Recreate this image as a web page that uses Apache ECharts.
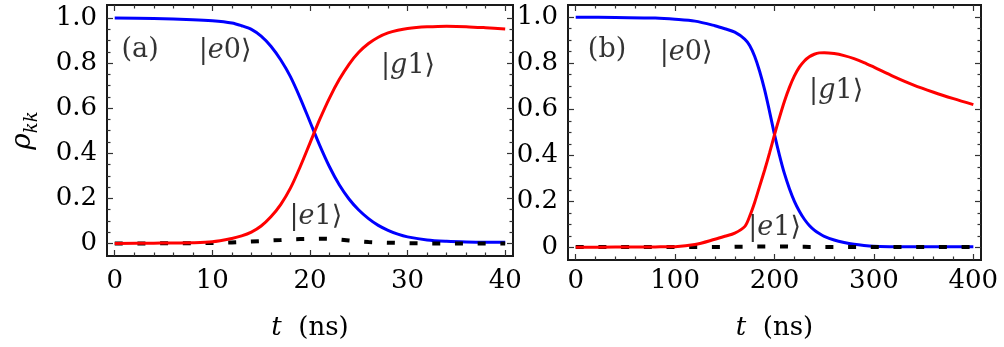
<!DOCTYPE html>
<html>
<head>
<meta charset="utf-8">
<script src="https://cdn.jsdelivr.net/npm/echarts@6/dist/echarts.min.js"></script>
<style>
html,body{margin:0;padding:0;background:#fff;}
#c{width:1004px;height:347px;}
</style>
</head>
<body>
<div id="c"></div>
<script>
// ---- data: panel (a) ----
var tA   = [0, 4, 8, 10, 12, 13, 14, 15, 16, 17, 18, 19, 20, 21, 22, 23, 24, 25, 26, 27, 28, 29, 30, 32, 34, 36, 38, 40];
var e0A  = [1.0, 0.998, 0.993, 0.988, 0.978, 0.966, 0.95, 0.92, 0.875, 0.815, 0.74, 0.645, 0.54, 0.435, 0.34, 0.26, 0.197, 0.148, 0.11, 0.08, 0.058, 0.041, 0.029, 0.015, 0.009, 0.006, 0.005, 0.005];
var g1A  = [0.0, 0.001, 0.003, 0.007, 0.022, 0.033, 0.05, 0.077, 0.118, 0.172, 0.245, 0.34, 0.445, 0.55, 0.645, 0.727, 0.795, 0.848, 0.887, 0.915, 0.934, 0.946, 0.954, 0.961, 0.964, 0.962, 0.957, 0.951];
var e1A  = [0.0, 0.0, 0.001, 0.002, 0.004, 0.006, 0.008, 0.01, 0.013, 0.015, 0.018, 0.019, 0.02, 0.021, 0.02, 0.017, 0.013, 0.009, 0.006, 0.004, 0.003, 0.002, 0.001, 0.0, 0.0, 0.0, 0.0, 0.0];
// ---- data: panel (b) ----
var tB   = [0, 40, 80, 100, 120, 140, 150, 160, 170, 175, 180, 185, 190, 195, 200, 205, 210, 215, 220, 225, 230, 235, 240, 245, 250, 260, 270, 280, 290, 300, 320, 340, 360, 380, 400];
var e0B  = [1.0, 0.999, 0.996, 0.991, 0.983, 0.963, 0.95, 0.935, 0.905, 0.877, 0.83, 0.765, 0.685, 0.59, 0.49, 0.40, 0.32, 0.255, 0.2, 0.157, 0.122, 0.095, 0.075, 0.06, 0.048, 0.032, 0.021, 0.013, 0.008, 0.005, 0.003, 0.003, 0.003, 0.003, 0.003];
var g1B  = [0.0, 0.001, 0.002, 0.003, 0.012, 0.035, 0.048, 0.062, 0.09, 0.135, 0.195, 0.265, 0.335, 0.41, 0.49, 0.565, 0.635, 0.695, 0.745, 0.783, 0.81, 0.828, 0.839, 0.845, 0.846, 0.842, 0.833, 0.82, 0.803, 0.783, 0.742, 0.705, 0.674, 0.646, 0.62];
var e1B  = [0.002, 0.002, 0.002, 0.002, 0.002, 0.002, 0.002, 0.003, 0.003, 0.003, 0.004, 0.004, 0.004, 0.004, 0.004, 0.004, 0.004, 0.003, 0.003, 0.003, 0.003, 0.002, 0.002, 0.002, 0.002, 0.002, 0.002, 0.002, 0.002, 0.002, 0.002, 0.002, 0.002, 0.002, 0.002];
// ---- ticks ----
var xMajorA = [0, 10, 20, 30, 40];
var xMinorA = [2, 4, 6, 8, 12, 14, 16, 18, 22, 24, 26, 28, 32, 34, 36, 38];
var xMajorB = [0, 100, 200, 300, 400];
var xMinorB = [20, 40, 60, 80, 120, 140, 160, 180, 220, 240, 260, 280, 320, 340, 360, 380];
var yMajor  = [0, 0.2, 0.4, 0.6, 0.8, 1.0];
var yMinor  = [0.05, 0.1, 0.15, 0.25, 0.3, 0.35, 0.45, 0.5, 0.55, 0.65, 0.7, 0.75, 0.85, 0.9, 0.95];
// ---- annotations ----
var annTextA = ['(a)', '|e0⟩', '|g1⟩', '|e1⟩'];
var annXA    = [2.6, 11.3, 30.05, 20.6];
var annYA    = [0.857, 0.853, 0.787, 0.117];
var annTextB = ['(b)', '|e0⟩', '|g1⟩', '|e1⟩'];
var annXB    = [31.5, 111, 262, 200];
var annYB    = [0.858, 0.846, 0.68, 0.084];

var FONT = "'DejaVu Serif', 'Liberation Serif', serif";
var TXT = '#000';

function pairs(xs, ys){ return xs.map(function(x,i){ return [x, ys[i]]; }); }

function richKet(s){
  if (s.charAt(0) === '|') {
    return '{n||}{i|' + s.charAt(1) + '}{n|' + s.slice(2) + '}';
  }
  return '{n|' + s + '}';
}

var chart = echarts.init(document.getElementById('c'), null, {renderer:'canvas'});

var grids = [
  {left:107, top:5, width:406, height:251},
  {left:568, top:5, width:413, height:255}
];
grids.forEach(function(g){ g.show = true; g.borderColor = '#1a1a1a'; g.borderWidth = 2; g.backgroundColor = 'transparent'; g.containLabel = false; });

var xRanges = [[-0.79, 40.8], [-7.75, 407.7]];
var yRanges = [[-0.056, 1.058], [-0.055, 1.053]];
var xMaj = [xMajorA, xMajorB], xMin = [xMinorA, xMinorB];
var xLabelMargin = [12, 8];
var xNameGap = [59, 55];

var xAxes = [], yAxes = [];
for (var g = 0; g < 2; g++) {
  var positions = ['bottom', 'bottom', 'top', 'top'];
  for (var k = 0; k < 4; k++) {
    var major = (k % 2 === 0);
    xAxes.push({
      type:'value', gridIndex:g, position:positions[k], offset:0,
      min:xRanges[g][0], max:xRanges[g][1],
      axisLine:{show:false, onZero:false}, splitLine:{show:false},
      axisTick:{show:true, inside:true, length: major?6:3.5, customValues: major?xMaj[g]:xMin[g], lineStyle:{color:'#333', width:1.2}},
      axisLabel:(k===0)?{show:true, customValues:xMaj[g], margin:xLabelMargin[g], fontFamily:FONT, fontSize:26, color:TXT, formatter:function(v){return String(Math.round(v));}}:{show:false},
      name:(k===0)?'{i|t}{n|  (ns)}':'',
      nameLocation:'middle', nameGap:xNameGap[g],
      nameTextStyle:{rich:{i:{fontFamily:FONT, fontSize:26, fontStyle:'italic', color:TXT}, n:{fontFamily:FONT, fontSize:26, color:TXT}}}
    });
    var ypos = ['left','left','right','right'][k];
    yAxes.push({
      type:'value', gridIndex:g, position:ypos, offset:0,
      min:yRanges[g][0], max:yRanges[g][1],
      axisLine:{show:false, onZero:false}, splitLine:{show:false},
      axisTick:{show:true, inside:true, length: major?6:3.5, customValues: major?yMajor:yMinor, lineStyle:{color:'#333', width:1.2}},
      axisLabel:(k===0)?{show:true, customValues:yMajor, margin:10, fontFamily:FONT, fontSize:26, color:TXT, formatter:function(v){ return Math.abs(v)<1e-9 ? '0' : v.toFixed(1);}}:{show:false},
      name:(k===0 && g===0)?'{r|ρ}{s|kk}':'',
      nameLocation:'middle', nameGap:52, nameRotate:90,
      nameTextStyle:{rich:{r:{fontFamily:FONT, fontSize:28, fontStyle:'italic', color:TXT, lineHeight:30, verticalAlign:'top'}, s:{fontFamily:FONT, fontSize:18, fontStyle:'italic', color:TXT, lineHeight:46}}}
    });
  }
}

function lineSeries(g, xs, ys, color, dashed, z){
  return {
    type:'line', xAxisIndex:g*4, yAxisIndex:g*4, data:pairs(xs, ys),
    showSymbol:false, symbol:'none', smooth: dashed ? false : 0.3,
    lineStyle: dashed ? {color:'#000', width:4, type:[8,14.7], cap:'butt'} : {color:color, width:3},
    z:z, silent:true, animation:false
  };
}

function annSeries(g, xs, ys, texts){
  return {
    type:'scatter', xAxisIndex:g*4, yAxisIndex:g*4, symbolSize:0, z:10, silent:true, animation:false,
    data: xs.map(function(x,i){ return {value:[x, ys[i]], name:texts[i]}; }),
    label:{show:true, position:'inside', color:TXT,
      formatter:function(p){ return richKet(p.name); },
      rich:{n:{fontFamily:FONT, fontSize:27, color:TXT}, i:{fontFamily:FONT, fontSize:27, fontStyle:'italic', color:TXT}}}
  };
}

var series = [
  lineSeries(0, tA, e0A, '#0000ff', false, 2),
  lineSeries(0, tA, e1A, '#000', true, 3),
  lineSeries(0, tA, g1A, '#ff0000', false, 4),
  lineSeries(1, tB, e0B, '#0000ff', false, 2),
  lineSeries(1, tB, e1B, '#000', true, 3),
  lineSeries(1, tB, g1B, '#ff0000', false, 4),
  annSeries(0, annXA, annYA, annTextA),
  annSeries(1, annXB, annYB, annTextB)
];

chart.setOption({
  backgroundColor:'#fff',
  animation:false,
  grid:grids,
  xAxis:xAxes,
  yAxis:yAxes,
  series:series
});
</script>
</body>
</html>
